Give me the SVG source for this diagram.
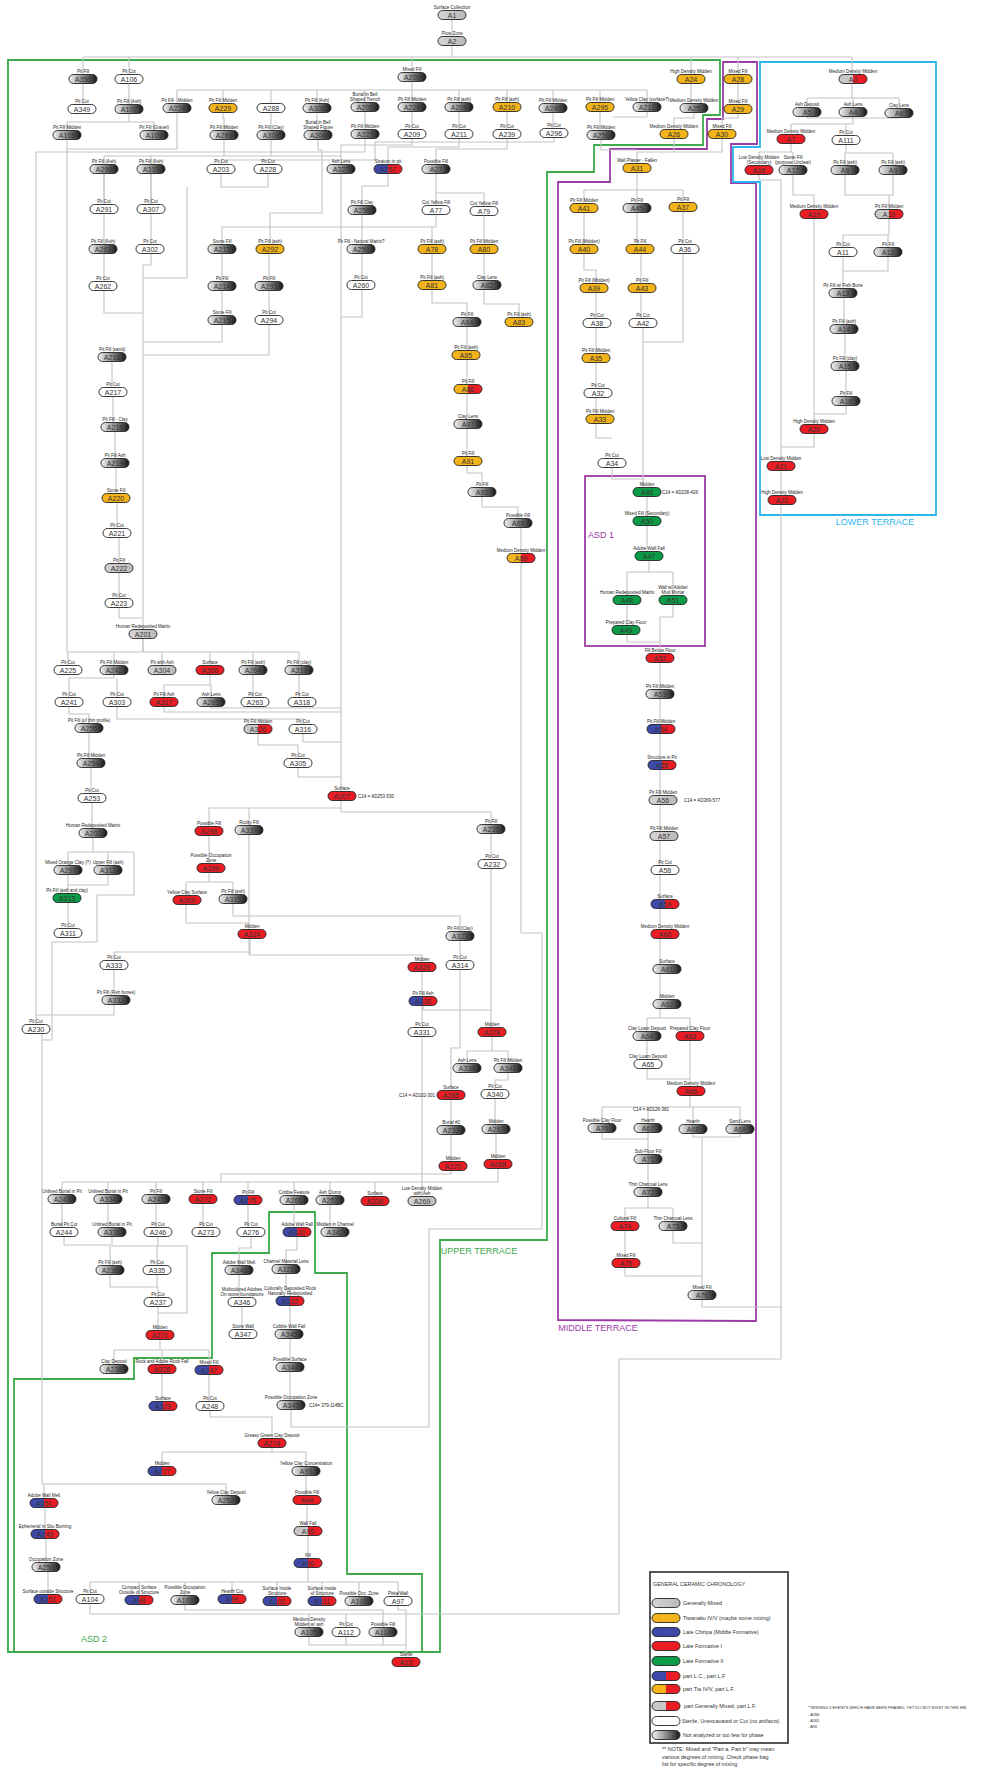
<svg xmlns="http://www.w3.org/2000/svg" xmlns:xlink="http://www.w3.org/1999/xlink" width="990" height="1771" viewBox="0 0 990 1771">
<defs>
<linearGradient id="gg" x1="0" x2="1" y1="0" y2="0"><stop offset="0" stop-color="#f2f2f2"/><stop offset="0.5" stop-color="#8e8e8e"/><stop offset="1" stop-color="#151515"/></linearGradient>
<linearGradient id="gm" x1="0" x2="1" y1="0" y2="0"><stop offset="0" stop-color="#d6d4d4"/><stop offset="1" stop-color="#bab8b8"/></linearGradient>
<linearGradient id="gbr" x1="0" x2="1" y1="0" y2="0"><stop offset="0.5" stop-color="#3e48a8"/><stop offset="0.5" stop-color="#ec1c24"/></linearGradient>
<linearGradient id="gyr" x1="0" x2="1" y1="0" y2="0"><stop offset="0.5" stop-color="#f3b41b"/><stop offset="0.5" stop-color="#ec1c24"/></linearGradient>
<linearGradient id="gmr" x1="0" x2="1" y1="0" y2="0"><stop offset="0.5" stop-color="#c9c7c7"/><stop offset="0.5" stop-color="#ec1c24"/></linearGradient>
<rect id="pill" x="-14" y="-4.5" width="28" height="9" rx="4.5" stroke="#222" stroke-width="0.9"/>
</defs>
<style>
text{font-family:"Liberation Sans",Arial,sans-serif}
.c path{fill:none;stroke:#c4c4c4;stroke-width:1.1}
.w{fill:#fff}.m{fill:url(#gm)}.y{fill:#f3b41b}.r{fill:#ec1c24}.b{fill:#3e48a8}.gn{fill:#0c9b47}.g{fill:url(#gg)}.br{fill:url(#gbr)}.yr{fill:url(#gyr)}.mr{fill:url(#gmr)}
.l{font-size:4.5px;fill:#222;text-anchor:middle}
.i{font-size:7px;fill:#333;text-anchor:middle}
.d{font-size:4.5px;fill:#222}
.zone{fill:none;stroke-width:1.8}
.zt{font-size:9px}
.lg{font-size:5.4px;fill:#333}
</style>
<rect width="990" height="1771" fill="#fff"/>

<!-- site zones -->
<g id="zones">
<path class="zone" stroke="#3daa4b" d="M8,60H720V115H703V145H594V172H547V1240H440V1652H8Z"/>
<path class="zone" stroke="#3daa4b" d="M14,1379H134V1358H212V1253H269V1212H315V1273H347V1574H422V1652H14Z"/>
<path class="zone" stroke="#9b3ba6" d="M558,1320V182H610V149H707V119H723V62H757V144H731V183H756V1321Z"/>
<path class="zone" stroke="#2cb5ea" d="M760,62H936V515H760V182H733V147H760Z"/>
<rect class="zone" stroke="#9b3ba6" x="585" y="476" width="120" height="170"/>
<text class="zt" x="479" y="1254" fill="#3daa4b" text-anchor="middle">UPPER TERRACE</text>
<text class="zt" x="94" y="1642" fill="#3daa4b" text-anchor="middle">ASD 2</text>
<text class="zt" x="598" y="1331" fill="#9b3ba6" text-anchor="middle">MIDDLE TERRACE</text>
<text class="zt" x="588" y="538" fill="#9b3ba6">ASD 1</text>
<text class="zt" x="875" y="525" fill="#2cb5ea" text-anchor="middle">LOWER TERRACE</text>
</g>

<!-- stratigraphic links -->
<g id="connectors" class="c">
<path d="M452,15V57M83,57H852M83,57V109M129,57V122M67,122H154M67,122V135M154,122V135M412,57V90M691,57V108M738,57V118H722V152M852,57V98"/>
<path d="M694,108V118H674V152H637V190M722,152H674M601,135V150H637"/>
<path d="M807,98H899M807,98V118H899V98M853,98V124M791,124H853M791,124V152M846,124V153"/>
<path d="M759,152H793M759,152V180H781V1359H619V1614H90V1599"/>
<path d="M793,152V195H814V447H781"/>
<path d="M845,153H893M845,153V195H893V153M889,195V235M843,235H888M843,235V293M844,293V329M845,329V366M846,366V414H814M888,235V271H843"/>
<path d="M177,90H647M177,90V108M223,90V108M271,90V108M317,90V108M365,90V107M412,90V107M459,90V107M507,90V107M553,90V108M600,90V107M647,90V107M647,107V117H613"/>
<path d="M223,108V118H224V135M271,108V135M317,108V135M365,107V134M412,107V134M459,107V134M507,107V134M553,108V133H554M600,107V135H601"/>
<path d="M177,108V149H67M67,135V652M365,134V152H36V1029M42,1029V1484H226V1500"/>
<path d="M224,135V156M271,135V156M104,156H341M104,156V209M151,156V209"/>
<path d="M318,135V150H322V213H270V249"/>
<path d="M412,134V145H341V796"/>
<path d="M459,134V147H388V186H362V317H341"/>
<path d="M507,134V149H436V193M436,193H484M436,193V227H222V249M341,227H436"/>
<path d="M432,227V303H467V473H482V507H518V523H521V933H542V1229H429V1427H291V1405"/>
<path d="M484,193V304H519V322"/>
<path d="M554,133V142H375V160H221V169M268,160V169"/>
<path d="M221,169V187H268V169M187,187V278H143"/>
<path d="M104,169V313H143M151,169V265H143M143,265V652M222,249V342H143M270,249H269V355H143"/>
<path d="M112,357V392M113,392V427M115,427V463M116,463V498M117,498V533M119,533V618H143"/>
<path d="M584,190H683M584,190V270H596V438H612M612,463V479H645M637,190V249H641V323H643V492M683,190V342H643"/>
<path d="M647,492V556H649V572M627,572H673M627,572V642H660M673,572V617H660M660,617V1018M647,1018H690M647,1018V1079H690M690,1018V1107"/>
<path d="M602,1107H740M602,1107V1139H648M648,1107V1208M693,1107V1137H740V1107M702,1137V1307H782M625,1208H673M625,1208V1276H702M673,1208V1243H702"/>
<path d="M143,634V652M67,652H299M68,652V670M114,652V670M162,652V670M210,652V670M253,652V702H255M299,652V702H302"/>
<path d="M114,670V678H69V702M117,678V702M210,670V685H164V702M211,685V702"/>
<path d="M69,702V714H89V728M89,728V763M91,763V798M92,798V833M93,833V852M68,852H134M68,852V933M108,852V885H68M134,852V895H97V942H52V1040H42"/>
<path d="M117,702V719H303V729M164,702V712H341M211,702V708H341M258,729V745H298V763M303,729V742H341M298,763V777H341"/>
<path d="M341,796V808H209V882M249,808V955M341,808V812H491V1032H492"/>
<path d="M186,882H233M186,882V923H250M233,882V916H460V1048H451V1174H221V1182"/>
<path d="M250,934V955H422V1201M114,952H250M114,952V1015H36M423,1001V1010H492"/>
<path d="M492,1032V1051M467,1051H508M467,1051V1068M508,1051V1080H495V1129H496V1164H498V1182H422"/>
<path d="M62,1182H422M62,1182V1232H64M108,1182V1232H112M156,1182V1232H158M203,1182V1232H206M248,1182V1232H251M294,1182V1232H297M330,1182V1232H335M375,1182V1201"/>
<path d="M64,1232V1245H110V1270M112,1232V1246H157V1287M158,1232V1246H187V1313H158M110,1270V1287H158V1335H160"/>
<path d="M251,1232V1248H239V1302H242V1334H243M297,1232V1250H286V1290H290V1405H291"/>
<path d="M160,1335V1350M114,1350H209M114,1350V1369M162,1350V1406H163M209,1350V1406H210V1417H272V1452M162,1452H306M162,1452V1471"/>
<path d="M306,1452V1500H307V1531H308V1582M90,1582H398M90,1582V1599M139,1582V1600M185,1582V1600M232,1582V1599M277,1582V1601M322,1582V1601M359,1582V1601M398,1582V1601"/>
<path d="M44,1484V1503H45V1534H46V1567H48V1599"/>
<path d="M185,1600V1610H383V1645M346,1614V1645M309,1614V1645H406M398,1601V1610H406V1662"/>
</g>

<!-- context units -->
<g id="nodes">
<g id="A1" transform="translate(452,15)"><text class="l" y="-6">Surface Collection</text><use href="#pill" class="m"/><text class="i" y="2.5">A1</text></g>
<g id="A2" transform="translate(452,41)"><text class="l" y="-6">Plow Zone</text><use href="#pill" class="m"/><text class="i" y="2.5">A2</text></g>
<g id="A350" transform="translate(83,79)"><text class="l" y="-6">Pit Fill</text><use href="#pill" class="g"/><text class="i" y="2.5">A350</text></g>
<g id="A106" transform="translate(129,79)"><text class="l" y="-6">Pit Cut</text><use href="#pill" class="w"/><text class="i" y="2.5">A106</text></g>
<g id="A200" transform="translate(412,77)"><text class="l" y="-6">Mixed Fill</text><use href="#pill" class="g"/><text class="i" y="2.5">A200</text></g>
<g id="A24" transform="translate(691,79)"><text class="l" y="-6">High Density Midden</text><use href="#pill" class="y"/><text class="i" y="2.5">A24</text></g>
<g id="A28" transform="translate(738,79)"><text class="l" y="-6">Mixed Fill</text><use href="#pill" class="y"/><text class="i" y="2.5">A28</text></g>
<g id="A3" transform="translate(853,79)"><text class="l" y="-6">Medium Density Midden</text><use href="#pill" class="mr"/><text class="i" y="2.5">A3</text></g>
<g id="A349" transform="translate(82,109)"><text class="l" y="-6">Pit Cut</text><use href="#pill" class="w"/><text class="i" y="2.5">A349</text></g>
<g id="A107" transform="translate(129,109)"><text class="l" y="-6">Pit Fill (Ash)</text><use href="#pill" class="g"/><text class="i" y="2.5">A107</text></g>
<g id="A224" transform="translate(177,108)"><text class="l" y="-6">Pit Fill - Midden</text><use href="#pill" class="g"/><text class="i" y="2.5">A224</text></g>
<g id="A229" transform="translate(223,108)"><text class="l" y="-6">Pit Fill Midden</text><use href="#pill" class="y"/><text class="i" y="2.5">A229</text></g>
<g id="A288" transform="translate(271,108)"><use href="#pill" class="w"/><text class="i" y="2.5">A288</text></g>
<g id="A308" transform="translate(317,108)"><text class="l" y="-6">Pit Fill (Ash)</text><use href="#pill" class="g"/><text class="i" y="2.5">A308</text></g>
<g id="A205" transform="translate(365,107)"><text class="l" y="-11">Burial in Bell</text><text class="l" y="-6">Shaped Trench</text><use href="#pill" class="g"/><text class="i" y="2.5">A205</text></g>
<g id="A226" transform="translate(412,107)"><text class="l" y="-6">Pit Fill Midden</text><use href="#pill" class="g"/><text class="i" y="2.5">A226</text></g>
<g id="A208" transform="translate(459,107)"><text class="l" y="-6">Pit Fill (ash)</text><use href="#pill" class="g"/><text class="i" y="2.5">A208</text></g>
<g id="A210" transform="translate(507,107)"><text class="l" y="-6">Pit Fill (ash)</text><use href="#pill" class="y"/><text class="i" y="2.5">A210</text></g>
<g id="A240" transform="translate(553,108)"><text class="l" y="-6">Pit Fill Midden</text><use href="#pill" class="g"/><text class="i" y="2.5">A240</text></g>
<g id="A295" transform="translate(600,107)"><text class="l" y="-6">Pit Fill Midden</text><use href="#pill" class="y"/><text class="i" y="2.5">A295</text></g>
<g id="A212" transform="translate(647,107)"><text class="l" y="-6">Yellow Clay (surface?)</text><use href="#pill" class="g"/><text class="i" y="2.5">A212</text></g>
<g id="A25" transform="translate(694,108)"><text class="l" y="-6">Medium Density Midden</text><use href="#pill" class="g"/><text class="i" y="2.5">A25</text></g>
<g id="A29" transform="translate(738,109)"><text class="l" y="-6">Mixed Fill</text><use href="#pill" class="y"/><text class="i" y="2.5">A29</text></g>
<g id="A108" transform="translate(67,135)"><text class="l" y="-6">Pit Fill Midden</text><use href="#pill" class="g"/><text class="i" y="2.5">A108</text></g>
<g id="A109" transform="translate(154,135)"><text class="l" y="-6">Pit Fill (Gravel)</text><use href="#pill" class="g"/><text class="i" y="2.5">A109</text></g>
<g id="A289" transform="translate(224,135)"><text class="l" y="-6">Pit Fill Midden</text><use href="#pill" class="g"/><text class="i" y="2.5">A289</text></g>
<g id="A309" transform="translate(271,135)"><text class="l" y="-6">Pit Fill (Clay)</text><use href="#pill" class="g"/><text class="i" y="2.5">A309</text></g>
<g id="A204" transform="translate(318,135)"><text class="l" y="-11">Burial in Bell</text><text class="l" y="-6">Shaped Figure</text><use href="#pill" class="g"/><text class="i" y="2.5">A204</text></g>
<g id="A227" transform="translate(365,134)"><text class="l" y="-6">Pit Fill Midden</text><use href="#pill" class="g"/><text class="i" y="2.5">A227</text></g>
<g id="A209" transform="translate(412,134)"><text class="l" y="-6">Pit Cut</text><use href="#pill" class="w"/><text class="i" y="2.5">A209</text></g>
<g id="A211" transform="translate(459,134)"><text class="l" y="-6">Pit Cut</text><use href="#pill" class="w"/><text class="i" y="2.5">A211</text></g>
<g id="A239" transform="translate(507,134)"><text class="l" y="-6">Pit Cut</text><use href="#pill" class="w"/><text class="i" y="2.5">A239</text></g>
<g id="A296" transform="translate(554,133)"><text class="l" y="-6">Pit Cut</text><use href="#pill" class="w"/><text class="i" y="2.5">A296</text></g>
<g id="A256" transform="translate(601,135)"><text class="l" y="-6">Pit Fill Midden</text><use href="#pill" class="g"/><text class="i" y="2.5">A256</text></g>
<g id="A26" transform="translate(674,134)"><text class="l" y="-6">Medium Density Midden</text><use href="#pill" class="y"/><text class="i" y="2.5">A26</text></g>
<g id="A30" transform="translate(722,134)"><text class="l" y="-6">Mixed Fill</text><use href="#pill" class="y"/><text class="i" y="2.5">A30</text></g>

<g id="A5" transform="translate(807,112)"><text class="l" y="-6">Ash Deposit</text><use href="#pill" class="g"/><text class="i" y="2.5">A5</text></g>
<g id="A4" transform="translate(853,112)"><text class="l" y="-6">Ash Lens</text><use href="#pill" class="g"/><text class="i" y="2.5">A4</text></g>
<g id="A6" transform="translate(899,113)"><text class="l" y="-6">Clay Lens</text><use href="#pill" class="g"/><text class="i" y="2.5">A6</text></g>
<g id="A7" transform="translate(791,139)"><text class="l" y="-6">Medium Density Midden</text><use href="#pill" class="r"/><text class="i" y="2.5">A7</text></g>
<g id="A111" transform="translate(846,140)"><text class="l" y="-6">Pit Cut</text><use href="#pill" class="w"/><text class="i" y="2.5">A111</text></g>
<g id="A18" transform="translate(759,170)"><text class="l" y="-11">Low Density Midden</text><text class="l" y="-6">(Secondary)</text><use href="#pill" class="r"/><text class="i" y="2.5">A18</text></g>
<g id="A17" transform="translate(793,170)"><text class="l" y="-11">Stone Fill</text><text class="l" y="-6">(purpose Unclear)</text><use href="#pill" class="g"/><text class="i" y="2.5">A17</text></g>
<g id="A8" transform="translate(845,170)"><text class="l" y="-6">Pit Fill (ash)</text><use href="#pill" class="g"/><text class="i" y="2.5">A8</text></g>
<g id="A9" transform="translate(893,170)"><text class="l" y="-6">Pit Fill (ash)</text><use href="#pill" class="g"/><text class="i" y="2.5">A9</text></g>
<g id="A19" transform="translate(814,214)"><text class="l" y="-6">Medium Density Midden</text><use href="#pill" class="r"/><text class="i" y="2.5">A19</text></g>
<g id="A10" transform="translate(889,214)"><text class="l" y="-6">Pit Fill Midden</text><use href="#pill" class="mr"/><text class="i" y="2.5">A10</text></g>
<g id="A11" transform="translate(843,252)"><text class="l" y="-6">Pit Cut</text><use href="#pill" class="w"/><text class="i" y="2.5">A11</text></g>
<g id="A12" transform="translate(888,252)"><text class="l" y="-6">Pit Fill</text><use href="#pill" class="g"/><text class="i" y="2.5">A12</text></g>
<g id="A13" transform="translate(843,293)"><text class="l" y="-6">Pit Fill w/ Fish Bone</text><use href="#pill" class="g"/><text class="i" y="2.5">A13</text></g>
<g id="A14" transform="translate(844,329)"><text class="l" y="-6">Pit Fill (ash)</text><use href="#pill" class="g"/><text class="i" y="2.5">A14</text></g>
<g id="A15" transform="translate(845,366)"><text class="l" y="-6">Pit Fill (clay)</text><use href="#pill" class="g"/><text class="i" y="2.5">A15</text></g>
<g id="A16" transform="translate(846,401)"><text class="l" y="-6">Pit Fill</text><use href="#pill" class="g"/><text class="i" y="2.5">A16</text></g>
<g id="A20" transform="translate(814,429)"><text class="l" y="-6">High Density Midden</text><use href="#pill" class="r"/><text class="i" y="2.5">A20</text></g>
<g id="A21" transform="translate(781,466)"><text class="l" y="-6">Low Density Midden</text><use href="#pill" class="r"/><text class="i" y="2.5">A21</text></g>
<g id="A22" transform="translate(782,500)"><text class="l" y="-6">High Density Midden</text><use href="#pill" class="r"/><text class="i" y="2.5">A22</text></g>

<g id="A290" transform="translate(104,169)"><text class="l" y="-6">Pit Fill (Ash)</text><use href="#pill" class="g"/><text class="i" y="2.5">A290</text></g>
<g id="A310" transform="translate(151,169)"><text class="l" y="-6">Pit Fill (Ash)</text><use href="#pill" class="g"/><text class="i" y="2.5">A310</text></g>
<g id="A203" transform="translate(221,169)"><text class="l" y="-6">Pit Cut</text><use href="#pill" class="w"/><text class="i" y="2.5">A203</text></g>
<g id="A228" transform="translate(268,169)"><text class="l" y="-6">Pit Cut</text><use href="#pill" class="w"/><text class="i" y="2.5">A228</text></g>
<g id="A327" transform="translate(341,169)"><text class="l" y="-6">Ash Lens</text><use href="#pill" class="g"/><text class="i" y="2.5">A327</text></g>
<g id="A257" transform="translate(388,169)"><text class="l" y="-6">Stratum in pit</text><use href="#pill" class="br"/><text class="i" y="2.5">A257</text></g>
<g id="A27" transform="translate(436,169)"><text class="l" y="-6">Possible Fill</text><use href="#pill" class="g"/><text class="i" y="2.5">A27</text></g>
<g id="A31" transform="translate(637,168)"><text class="l" y="-6">Wall Plaster - Fallen</text><use href="#pill" class="y"/><text class="i" y="2.5">A31</text></g>
<g id="A291" transform="translate(104,209)"><text class="l" y="-6">Pit Cut</text><use href="#pill" class="w"/><text class="i" y="2.5">A291</text></g>
<g id="A307" transform="translate(151,209)"><text class="l" y="-6">Pit Cut</text><use href="#pill" class="w"/><text class="i" y="2.5">A307</text></g>
<g id="A258" transform="translate(362,210)"><text class="l" y="-6">Pit Fill Clay</text><use href="#pill" class="g"/><text class="i" y="2.5">A258</text></g>
<g id="A77" transform="translate(436,210)"><text class="l" y="-6">Cut Yellow Fill</text><use href="#pill" class="w"/><text class="i" y="2.5">A77</text></g>
<g id="A79" transform="translate(484,211)"><text class="l" y="-6">Cut Yellow Fill</text><use href="#pill" class="w"/><text class="i" y="2.5">A79</text></g>
<g id="A41" transform="translate(584,208)"><text class="l" y="-6">Pit Fill Midden</text><use href="#pill" class="y"/><text class="i" y="2.5">A41</text></g>
<g id="A45" transform="translate(637,208)"><text class="l" y="-6">Pit Fill</text><use href="#pill" class="g"/><text class="i" y="2.5">A45</text></g>
<g id="A37" transform="translate(683,207)"><text class="l" y="-6">Pit Fill</text><use href="#pill" class="y"/><text class="i" y="2.5">A37</text></g>
<g id="A261" transform="translate(103,249)"><text class="l" y="-6">Pit Fill (Ash)</text><use href="#pill" class="g"/><text class="i" y="2.5">A261</text></g>
<g id="A302" transform="translate(150,249)"><text class="l" y="-6">Pit Cut</text><use href="#pill" class="w"/><text class="i" y="2.5">A302</text></g>
<g id="A213" transform="translate(222,249)"><text class="l" y="-6">Stone Fill</text><use href="#pill" class="g"/><text class="i" y="2.5">A213</text></g>
<g id="A292" transform="translate(270,249)"><text class="l" y="-6">Pit Fill (ash)</text><use href="#pill" class="y"/><text class="i" y="2.5">A292</text></g>
<g id="A259" transform="translate(361,249)"><text class="l" y="-6">Pit Fill - Natural Matrix?</text><use href="#pill" class="g"/><text class="i" y="2.5">A259</text></g>
<g id="A78" transform="translate(432,249)"><text class="l" y="-6">Pit Fill (ash)</text><use href="#pill" class="y"/><text class="i" y="2.5">A78</text></g>
<g id="A80" transform="translate(484,249)"><text class="l" y="-6">Pit Fill Midden</text><use href="#pill" class="y"/><text class="i" y="2.5">A80</text></g>
<g id="A40" transform="translate(584,249)"><text class="l" y="-6">Pit Fill (Midden)</text><use href="#pill" class="y"/><text class="i" y="2.5">A40</text></g>
<g id="A44" transform="translate(640,249)"><text class="l" y="-6">Pit Fill</text><use href="#pill" class="y"/><text class="i" y="2.5">A44</text></g>
<g id="A36" transform="translate(685,249)"><text class="l" y="-6">Pit Cut</text><use href="#pill" class="w"/><text class="i" y="2.5">A36</text></g>
<g id="A262" transform="translate(103,286)"><text class="l" y="-6">Pit Cut</text><use href="#pill" class="w"/><text class="i" y="2.5">A262</text></g>
<g id="A214" transform="translate(222,286)"><text class="l" y="-6">Pit Fill</text><use href="#pill" class="g"/><text class="i" y="2.5">A214</text></g>
<g id="A293" transform="translate(269,286)"><text class="l" y="-6">Pit Fill</text><use href="#pill" class="g"/><text class="i" y="2.5">A293</text></g>
<g id="A260" transform="translate(361,285)"><text class="l" y="-6">Pit Cut</text><use href="#pill" class="w"/><text class="i" y="2.5">A260</text></g>
<g id="A81" transform="translate(432,285)"><text class="l" y="-6">Pit Fill (ash)</text><use href="#pill" class="y"/><text class="i" y="2.5">A81</text></g>
<g id="A82" transform="translate(487,285)"><text class="l" y="-6">Clay Lens</text><use href="#pill" class="g"/><text class="i" y="2.5">A82</text></g>
<g id="A39" transform="translate(594,288)"><text class="l" y="-6">Pit Fill (Midden)</text><use href="#pill" class="y"/><text class="i" y="2.5">A39</text></g>
<g id="A43" transform="translate(642,288)"><text class="l" y="-6">Pit Fill</text><use href="#pill" class="y"/><text class="i" y="2.5">A43</text></g>
<g id="A215" transform="translate(222,320)"><text class="l" y="-6">Stone Fill</text><use href="#pill" class="g"/><text class="i" y="2.5">A215</text></g>
<g id="A294" transform="translate(269,320)"><text class="l" y="-6">Pit Cut</text><use href="#pill" class="w"/><text class="i" y="2.5">A294</text></g>
<g id="A84" transform="translate(467,322)"><text class="l" y="-6">Pit Fill</text><use href="#pill" class="g"/><text class="i" y="2.5">A84</text></g>
<g id="A83" transform="translate(519,322)"><text class="l" y="-6">Pit Fill (ash)</text><use href="#pill" class="y"/><text class="i" y="2.5">A83</text></g>
<g id="A38" transform="translate(597,323)"><text class="l" y="-6">Pit Cut</text><use href="#pill" class="w"/><text class="i" y="2.5">A38</text></g>
<g id="A42" transform="translate(643,323)"><text class="l" y="-6">Pit Cut</text><use href="#pill" class="w"/><text class="i" y="2.5">A42</text></g>
<g id="A216" transform="translate(112,357)"><text class="l" y="-6">Pit Fill (sand)</text><use href="#pill" class="g"/><text class="i" y="2.5">A216</text></g>
<g id="A85" transform="translate(466,355)"><text class="l" y="-6">Pit Fill (ash)</text><use href="#pill" class="y"/><text class="i" y="2.5">A85</text></g>
<g id="A35" transform="translate(596,358)"><text class="l" y="-6">Pit Fill Midden</text><use href="#pill" class="y"/><text class="i" y="2.5">A35</text></g>
<g id="A217" transform="translate(113,392)"><text class="l" y="-6">Pit Cut</text><use href="#pill" class="w"/><text class="i" y="2.5">A217</text></g>
<g id="A86" transform="translate(468,389)"><text class="l" y="-6">Pit Fill</text><use href="#pill" class="yr"/><text class="i" y="2.5">A86</text></g>
<g id="A32" transform="translate(598,393)"><text class="l" y="-6">Pit Cut</text><use href="#pill" class="w"/><text class="i" y="2.5">A32</text></g>
<g id="A218" transform="translate(115,427)"><text class="l" y="-6">Pit Fill - Clay</text><use href="#pill" class="g"/><text class="i" y="2.5">A218</text></g>
<g id="A87" transform="translate(468,424)"><text class="l" y="-6">Clay Lens</text><use href="#pill" class="g"/><text class="i" y="2.5">A87</text></g>
<g id="A33" transform="translate(600,419)"><text class="l" y="-6">Pit Fill Midden</text><use href="#pill" class="y"/><text class="i" y="2.5">A33</text></g>
<g id="A219" transform="translate(115,463)"><text class="l" y="-6">Pit Fill Ash</text><use href="#pill" class="g"/><text class="i" y="2.5">A219</text></g>
<g id="A91" transform="translate(468,461)"><text class="l" y="-6">Pit Fill</text><use href="#pill" class="y"/><text class="i" y="2.5">A91</text></g>
<g id="A34" transform="translate(612,463)"><text class="l" y="-6">Pit Cut</text><use href="#pill" class="w"/><text class="i" y="2.5">A34</text></g>
<g id="A92" transform="translate(482,492)"><text class="l" y="-6">Pit Fill</text><use href="#pill" class="g"/><text class="i" y="2.5">A92</text></g>
<g id="A46" transform="translate(647,492)"><text class="l" y="-6">Midden</text><use href="#pill" class="gn"/><text class="i" y="2.5">A46</text></g>
<g id="A220" transform="translate(116,498)"><text class="l" y="-6">Stone Fill</text><use href="#pill" class="y"/><text class="i" y="2.5">A220</text></g>
<g id="A88" transform="translate(518,523)"><text class="l" y="-6">Possible Fill</text><use href="#pill" class="g"/><text class="i" y="2.5">A88</text></g>
<g id="A50" transform="translate(647,521)"><text class="l" y="-6">Mixed Fill (Secondary)</text><use href="#pill" class="gn"/><text class="i" y="2.5">A50</text></g>
<g id="A221" transform="translate(117,533)"><text class="l" y="-6">Pit Cut</text><use href="#pill" class="w"/><text class="i" y="2.5">A221</text></g>
<g id="A89" transform="translate(521,558)"><text class="l" y="-6">Medium Density Midden</text><use href="#pill" class="yr"/><text class="i" y="2.5">A89</text></g>
<g id="A47" transform="translate(649,556)"><text class="l" y="-6">Adobe Wall Fall</text><use href="#pill" class="gn"/><text class="i" y="2.5">A47</text></g>
<g id="A222" transform="translate(119,568)"><text class="l" y="-6">Pit Fill</text><use href="#pill" class="m"/><text class="i" y="2.5">A222</text></g>
<g id="A48" transform="translate(627,600)"><text class="l" y="-6">Human Redeposited Matrix</text><use href="#pill" class="gn"/><text class="i" y="2.5">A48</text></g>
<g id="A51" transform="translate(673,600)"><text class="l" y="-11">Wall w/ Adobe/</text><text class="l" y="-6">Mud Mortar</text><use href="#pill" class="gn"/><text class="i" y="2.5">A51</text></g>
<g id="A223" transform="translate(119,603)"><text class="l" y="-6">Pit Cut</text><use href="#pill" class="w"/><text class="i" y="2.5">A223</text></g>
<g id="A49" transform="translate(626,630)"><text class="l" y="-6">Prepared Clay Floor</text><use href="#pill" class="gn"/><text class="i" y="2.5">A49</text></g>
<g id="A201" transform="translate(143,634)"><text class="l" y="-6">Human Redeposited Matrix</text><use href="#pill" class="m"/><text class="i" y="2.5">A201</text></g>
<g id="A52" transform="translate(660,658)"><text class="l" y="-6">Fill Below Floor</text><use href="#pill" class="r"/><text class="i" y="2.5">A52</text></g>

<g id="A225" transform="translate(68,670)"><text class="l" y="-6">Pit Cut</text><use href="#pill" class="w"/><text class="i" y="2.5">A225</text></g>
<g id="A242" transform="translate(114,670)"><text class="l" y="-6">Pit Fill Midden</text><use href="#pill" class="g"/><text class="i" y="2.5">A242</text></g>
<g id="A304" transform="translate(162,670)"><text class="l" y="-6">Pit with Ash</text><use href="#pill" class="m"/><text class="i" y="2.5">A304</text></g>
<g id="A306" transform="translate(210,670)"><text class="l" y="-6">Surface</text><use href="#pill" class="r"/><text class="i" y="2.5">A306</text></g>
<g id="A264" transform="translate(253,670)"><text class="l" y="-6">Pit Fill (ash)</text><use href="#pill" class="g"/><text class="i" y="2.5">A264</text></g>
<g id="A319" transform="translate(299,670)"><text class="l" y="-6">Pit Fill (clay)</text><use href="#pill" class="g"/><text class="i" y="2.5">A319</text></g>
<g id="A53" transform="translate(660,694)"><text class="l" y="-6">Pit Fill Midden</text><use href="#pill" class="g"/><text class="i" y="2.5">A53</text></g>
<g id="A241" transform="translate(69,702)"><text class="l" y="-6">Pit Cut</text><use href="#pill" class="w"/><text class="i" y="2.5">A241</text></g>
<g id="A303" transform="translate(117,702)"><text class="l" y="-6">Pit Cut</text><use href="#pill" class="w"/><text class="i" y="2.5">A303</text></g>
<g id="A317" transform="translate(164,702)"><text class="l" y="-6">Pit Fill Ash</text><use href="#pill" class="r"/><text class="i" y="2.5">A317</text></g>
<g id="A265" transform="translate(211,702)"><text class="l" y="-6">Ash Lens</text><use href="#pill" class="g"/><text class="i" y="2.5">A265</text></g>
<g id="A263" transform="translate(255,702)"><text class="l" y="-6">Pit Cut</text><use href="#pill" class="w"/><text class="i" y="2.5">A263</text></g>
<g id="A318" transform="translate(302,702)"><text class="l" y="-6">Pit Cut</text><use href="#pill" class="w"/><text class="i" y="2.5">A318</text></g>
<g id="A255" transform="translate(89,728)"><text class="l" y="-6">Pit Fill (of thin profile)</text><use href="#pill" class="g"/><text class="i" y="2.5">A255</text></g>
<g id="A326" transform="translate(258,729)"><text class="l" y="-6">Pit Fill Midden</text><use href="#pill" class="mr"/><text class="i" y="2.5">A326</text></g>
<g id="A316" transform="translate(303,729)"><text class="l" y="-6">Pit Cut</text><use href="#pill" class="w"/><text class="i" y="2.5">A316</text></g>
<g id="A54" transform="translate(661,729)"><text class="l" y="-6">Pit Fill Midden</text><use href="#pill" class="br"/><text class="i" y="2.5">A54</text></g>
<g id="A254" transform="translate(91,763)"><text class="l" y="-6">Pit Fill Midden</text><use href="#pill" class="g"/><text class="i" y="2.5">A254</text></g>
<g id="A305" transform="translate(298,763)"><text class="l" y="-6">Pit Cut</text><use href="#pill" class="w"/><text class="i" y="2.5">A305</text></g>
<g id="A55" transform="translate(662,765)"><text class="l" y="-6">Structure in Pit</text><use href="#pill" class="br"/><text class="i" y="2.5">A55</text></g>
<g id="A253" transform="translate(92,798)"><text class="l" y="-6">Pit Cut</text><use href="#pill" class="w"/><text class="i" y="2.5">A253</text></g>
<g id="A207" transform="translate(342,796)"><text class="l" y="-6">Surface</text><use href="#pill" class="r"/><text class="i" y="2.5">A207</text></g>
<g id="A56" transform="translate(663,800)"><text class="l" y="-6">Pit Fill Midden</text><use href="#pill" class="m"/><text class="i" y="2.5">A56</text></g>
<g id="A298" transform="translate(209,831)"><text class="l" y="-6">Possible Fill</text><use href="#pill" class="r"/><text class="i" y="2.5">A298</text></g>
<g id="A337" transform="translate(249,830)"><text class="l" y="-6">Rocky Fill</text><use href="#pill" class="g"/><text class="i" y="2.5">A337</text></g>
<g id="A202" transform="translate(93,833)"><text class="l" y="-6">Human Redeposited Matrix</text><use href="#pill" class="g"/><text class="i" y="2.5">A202</text></g>
<g id="A231" transform="translate(491,829)"><text class="l" y="-6">Pit Fill</text><use href="#pill" class="g"/><text class="i" y="2.5">A231</text></g>
<g id="A57" transform="translate(664,836)"><text class="l" y="-6">Pit Fill Midden</text><use href="#pill" class="m"/><text class="i" y="2.5">A57</text></g>
<g id="A299" transform="translate(211,868)"><text class="l" y="-11">Possible Occupation</text><text class="l" y="-6">Zone</text><use href="#pill" class="r"/><text class="i" y="2.5">A299</text></g>
<g id="A297" transform="translate(68,870)"><text class="l" y="-6">Mixed Orange Clay (?)</text><use href="#pill" class="g"/><text class="i" y="2.5">A297</text></g>
<g id="A312" transform="translate(108,870)"><text class="l" y="-6">Upper Fill (ash)</text><use href="#pill" class="g"/><text class="i" y="2.5">A312</text></g>
<g id="A232" transform="translate(492,864)"><text class="l" y="-6">Pit Cut</text><use href="#pill" class="w"/><text class="i" y="2.5">A232</text></g>
<g id="A58" transform="translate(665,870)"><text class="l" y="-6">Pit Cut</text><use href="#pill" class="w"/><text class="i" y="2.5">A58</text></g>
<g id="A313" transform="translate(67,898)"><text class="l" y="-6">Pit Fill (ash and clay)</text><use href="#pill" class="gn"/><text class="i" y="2.5">A313</text></g>
<g id="A300" transform="translate(187,900)"><text class="l" y="-6">Yellow Clay Surface</text><use href="#pill" class="r"/><text class="i" y="2.5">A300</text></g>
<g id="A315" transform="translate(233,899)"><text class="l" y="-6">Pit Fill (ash)</text><use href="#pill" class="g"/><text class="i" y="2.5">A315</text></g>
<g id="A59" transform="translate(665,904)"><text class="l" y="-6">Surface</text><use href="#pill" class="br"/><text class="i" y="2.5">A59</text></g>
<g id="A311" transform="translate(68,933)"><text class="l" y="-6">Pit Cut</text><use href="#pill" class="w"/><text class="i" y="2.5">A311</text></g>
<g id="A324" transform="translate(252,934)"><text class="l" y="-6">Midden</text><use href="#pill" class="r"/><text class="i" y="2.5">A324</text></g>
<g id="A323" transform="translate(460,936)"><text class="l" y="-6">Pit Fill (Clay)</text><use href="#pill" class="g"/><text class="i" y="2.5">A323</text></g>
<g id="A60" transform="translate(665,934)"><text class="l" y="-6">Medium Density Midden</text><use href="#pill" class="r"/><text class="i" y="2.5">A60</text></g>
<g id="A333" transform="translate(114,965)"><text class="l" y="-6">Pit Cut</text><use href="#pill" class="w"/><text class="i" y="2.5">A333</text></g>
<g id="A325" transform="translate(422,967)"><text class="l" y="-6">Midden</text><use href="#pill" class="r"/><text class="i" y="2.5">A325</text></g>
<g id="A314" transform="translate(460,965)"><text class="l" y="-6">Pit Cut</text><use href="#pill" class="w"/><text class="i" y="2.5">A314</text></g>
<g id="A61" transform="translate(667,969)"><text class="l" y="-6">Surface</text><use href="#pill" class="g"/><text class="i" y="2.5">A61</text></g>
<g id="A332" transform="translate(116,1000)"><text class="l" y="-6">Pit Fill (Fish bones)</text><use href="#pill" class="g"/><text class="i" y="2.5">A332</text></g>
<g id="A330" transform="translate(423,1001)"><text class="l" y="-6">Pit Fill Ash</text><use href="#pill" class="br"/><text class="i" y="2.5">A330</text></g>
<g id="A62" transform="translate(667,1004)"><text class="l" y="-6">Midden</text><use href="#pill" class="g"/><text class="i" y="2.5">A62</text></g>
<g id="A230" transform="translate(36,1029)"><text class="l" y="-6">Pit Cut</text><use href="#pill" class="w"/><text class="i" y="2.5">A230</text></g>
<g id="A331" transform="translate(422,1032)"><text class="l" y="-6">Pit Cut</text><use href="#pill" class="w"/><text class="i" y="2.5">A331</text></g>
<g id="A278" transform="translate(492,1032)"><text class="l" y="-6">Midden</text><use href="#pill" class="r"/><text class="i" y="2.5">A278</text></g>
<g id="A64" transform="translate(647,1036)"><text class="l" y="-6">Clay Loam Deposit</text><use href="#pill" class="g"/><text class="i" y="2.5">A64</text></g>
<g id="A63" transform="translate(690,1036)"><text class="l" y="-6">Prepared Clay Floor</text><use href="#pill" class="r"/><text class="i" y="2.5">A63</text></g>
<g id="A65" transform="translate(648,1064)"><text class="l" y="-6">Clay Loam Deposit</text><use href="#pill" class="w"/><text class="i" y="2.5">A65</text></g>
<g id="A338" transform="translate(467,1068)"><text class="l" y="-6">Ash Lens</text><use href="#pill" class="g"/><text class="i" y="2.5">A338</text></g>
<g id="A341" transform="translate(508,1068)"><text class="l" y="-6">Pit Fill Midden</text><use href="#pill" class="g"/><text class="i" y="2.5">A341</text></g>
<g id="A285" transform="translate(451,1095)"><text class="l" y="-6">Surface</text><use href="#pill" class="r"/><text class="i" y="2.5">A285</text></g>
<g id="A340" transform="translate(495,1094)"><text class="l" y="-6">Pit Cut</text><use href="#pill" class="w"/><text class="i" y="2.5">A340</text></g>
<g id="A66" transform="translate(691,1091)"><text class="l" y="-6">Medium Density Midden</text><use href="#pill" class="r"/><text class="i" y="2.5">A66</text></g>
<g id="A70" transform="translate(602,1128)"><text class="l" y="-6">Possible Clay Floor</text><use href="#pill" class="g"/><text class="i" y="2.5">A70</text></g>
<g id="A67" transform="translate(648,1128)"><text class="l" y="-6">Hearth</text><use href="#pill" class="g"/><text class="i" y="2.5">A67</text></g>
<g id="A68" transform="translate(693,1129)"><text class="l" y="-6">Hearth</text><use href="#pill" class="g"/><text class="i" y="2.5">A68</text></g>
<g id="A69" transform="translate(740,1129)"><text class="l" y="-6">Sand Lens</text><use href="#pill" class="g"/><text class="i" y="2.5">A69</text></g>
<g id="A233" transform="translate(451,1130)"><text class="l" y="-6">Burial #2</text><use href="#pill" class="g"/><text class="i" y="2.5">A233</text></g>
<g id="A287" transform="translate(496,1129)"><text class="l" y="-6">Midden</text><use href="#pill" class="g"/><text class="i" y="2.5">A287</text></g>
<g id="A71" transform="translate(648,1159)"><text class="l" y="-6">Sub-Floor Fill</text><use href="#pill" class="g"/><text class="i" y="2.5">A71</text></g>
<g id="A270" transform="translate(453,1166)"><text class="l" y="-6">Midden</text><use href="#pill" class="r"/><text class="i" y="2.5">A270</text></g>
<g id="A268" transform="translate(498,1164)"><text class="l" y="-6">Midden</text><use href="#pill" class="r"/><text class="i" y="2.5">A268</text></g>
<g id="A72" transform="translate(648,1192)"><text class="l" y="-6">Thin Charcoal Lens</text><use href="#pill" class="g"/><text class="i" y="2.5">A72</text></g>

<g id="A243" transform="translate(62,1199)"><text class="l" y="-6">Unlined Burial in Pit</text><use href="#pill" class="g"/><text class="i" y="2.5">A243</text></g>
<g id="A334" transform="translate(108,1199)"><text class="l" y="-6">Unlined Burial in Pit</text><use href="#pill" class="g"/><text class="i" y="2.5">A334</text></g>
<g id="A245" transform="translate(156,1199)"><text class="l" y="-6">Pit Fill</text><use href="#pill" class="g"/><text class="i" y="2.5">A245</text></g>
<g id="A272" transform="translate(203,1199)"><text class="l" y="-6">Stone Fill</text><use href="#pill" class="r"/><text class="i" y="2.5">A272</text></g>
<g id="A275" transform="translate(248,1200)"><text class="l" y="-6">Pit Fill</text><use href="#pill" class="br"/><text class="i" y="2.5">A275</text></g>
<g id="A266" transform="translate(294,1200)"><text class="l" y="-6">Cobble Feature</text><use href="#pill" class="g"/><text class="i" y="2.5">A266</text></g>
<g id="A267" transform="translate(330,1200)"><text class="l" y="-6">Ash Clump</text><use href="#pill" class="g"/><text class="i" y="2.5">A267</text></g>
<g id="A339" transform="translate(375,1201)"><text class="l" y="-6">Surface</text><use href="#pill" class="r"/><text class="i" y="2.5">A339</text></g>
<g id="A269" transform="translate(422,1201)"><text class="l" y="-11">Low Density Midden</text><text class="l" y="-6">with Ash</text><use href="#pill" class="m"/><text class="i" y="2.5">A269</text></g>
<g id="A74" transform="translate(625,1226)"><text class="l" y="-6">Cultural Fill</text><use href="#pill" class="r"/><text class="i" y="2.5">A74</text></g>
<g id="A73" transform="translate(673,1226)"><text class="l" y="-6">Thin Charcoal Lens</text><use href="#pill" class="g"/><text class="i" y="2.5">A73</text></g>
<g id="A244" transform="translate(64,1232)"><text class="l" y="-6">Burial Pit Cut</text><use href="#pill" class="w"/><text class="i" y="2.5">A244</text></g>
<g id="A336" transform="translate(112,1232)"><text class="l" y="-6">Unlined Burial in Pit</text><use href="#pill" class="g"/><text class="i" y="2.5">A336</text></g>
<g id="A246" transform="translate(158,1232)"><text class="l" y="-6">Pit Cut</text><use href="#pill" class="w"/><text class="i" y="2.5">A246</text></g>
<g id="A273" transform="translate(206,1232)"><text class="l" y="-6">Pit Cut</text><use href="#pill" class="w"/><text class="i" y="2.5">A273</text></g>
<g id="A276" transform="translate(251,1232)"><text class="l" y="-6">Pit Cut</text><use href="#pill" class="w"/><text class="i" y="2.5">A276</text></g>
<g id="A320" transform="translate(297,1232)"><text class="l" y="-6">Adobe Wall Fall</text><use href="#pill" class="br"/><text class="i" y="2.5">A320</text></g>
<g id="A342" transform="translate(335,1232)"><text class="l" y="-6">Midden in Channel</text><use href="#pill" class="g"/><text class="i" y="2.5">A342</text></g>
<g id="A75" transform="translate(626,1263)"><text class="l" y="-6">Mixed Fill</text><use href="#pill" class="r"/><text class="i" y="2.5">A75</text></g>
<g id="A236" transform="translate(110,1270)"><text class="l" y="-6">Pit Fill (ash)</text><use href="#pill" class="g"/><text class="i" y="2.5">A236</text></g>
<g id="A335" transform="translate(157,1270)"><text class="l" y="-6">Pit Cut</text><use href="#pill" class="w"/><text class="i" y="2.5">A335</text></g>
<g id="A348" transform="translate(239,1270)"><text class="l" y="-6">Adobe Wall Melt</text><use href="#pill" class="g"/><text class="i" y="2.5">A348</text></g>
<g id="A321" transform="translate(286,1269)"><text class="l" y="-6">Channel Material Lens</text><use href="#pill" class="g"/><text class="i" y="2.5">A321</text></g>
<g id="A76" transform="translate(702,1295)"><text class="l" y="-6">Mixed Fill</text><use href="#pill" class="g"/><text class="i" y="2.5">A76</text></g>
<g id="A237" transform="translate(158,1302)"><text class="l" y="-6">Pit Cut</text><use href="#pill" class="w"/><text class="i" y="2.5">A237</text></g>
<g id="A346" transform="translate(242,1302)"><text class="l" y="-11">Multicolored Adobes</text><text class="l" y="-6">On stone foundations</text><use href="#pill" class="w"/><text class="i" y="2.5">A346</text></g>
<g id="A322" transform="translate(290,1301)"><text class="l" y="-11">Culturally Deposited Rock</text><text class="l" y="-6">Naturally Redeposited</text><use href="#pill" class="br"/><text class="i" y="2.5">A322</text></g>
<g id="A271" transform="translate(160,1335)"><text class="l" y="-6">Midden</text><use href="#pill" class="r"/><text class="i" y="2.5">A271</text></g>
<g id="A347" transform="translate(243,1334)"><text class="l" y="-6">Stone Wall</text><use href="#pill" class="w"/><text class="i" y="2.5">A347</text></g>
<g id="A345" transform="translate(289,1334)"><text class="l" y="-6">Cobble Wall Fall</text><use href="#pill" class="g"/><text class="i" y="2.5">A345</text></g>
<g id="A238" transform="translate(114,1369)"><text class="l" y="-6">Clay Deposit</text><use href="#pill" class="g"/><text class="i" y="2.5">A238</text></g>
<g id="A328" transform="translate(162,1369)"><text class="l" y="-6">Rock and Adobe Rock Fall</text><use href="#pill" class="r"/><text class="i" y="2.5">A328</text></g>
<g id="A247" transform="translate(209,1370)"><text class="l" y="-6">Mixed Fill</text><use href="#pill" class="br"/><text class="i" y="2.5">A247</text></g>
<g id="A344" transform="translate(290,1367)"><text class="l" y="-6">Possible Surface</text><use href="#pill" class="g"/><text class="i" y="2.5">A344</text></g>
<g id="A329" transform="translate(163,1406)"><text class="l" y="-6">Surface</text><use href="#pill" class="br"/><text class="i" y="2.5">A329</text></g>
<g id="A248" transform="translate(210,1406)"><text class="l" y="-6">Pit Cut</text><use href="#pill" class="w"/><text class="i" y="2.5">A248</text></g>
<g id="A343" transform="translate(291,1405)"><text class="l" y="-6">Possible Occupation Zone</text><use href="#pill" class="g"/><text class="i" y="2.5">A343</text></g>
<g id="A274" transform="translate(272,1443)"><text class="l" y="-6">Greasy Green Clay Deposit</text><use href="#pill" class="r"/><text class="i" y="2.5">A274</text></g>
<g id="A277" transform="translate(162,1471)"><text class="l" y="-6">Midden</text><use href="#pill" class="br"/><text class="i" y="2.5">A277</text></g>
<g id="A93" transform="translate(306,1471)"><text class="l" y="-6">Yellow Clay Concentration</text><use href="#pill" class="g"/><text class="i" y="2.5">A93</text></g>
<g id="A351" transform="translate(44,1503)"><text class="l" y="-6">Adobe Wall Melt</text><use href="#pill" class="br"/><text class="i" y="2.5">A351</text></g>
<g id="A252" transform="translate(226,1500)"><text class="l" y="-6">Yellow Clay Deposit</text><use href="#pill" class="g"/><text class="i" y="2.5">A252</text></g>
<g id="A94" transform="translate(307,1500)"><text class="l" y="-6">Possible Fill</text><use href="#pill" class="r"/><text class="i" y="2.5">A94</text></g>
<g id="A249" transform="translate(45,1534)"><text class="l" y="-6">Ephemeral In Situ Burning</text><use href="#pill" class="br"/><text class="i" y="2.5">A249</text></g>
<g id="A95" transform="translate(308,1531)"><text class="l" y="-6">Wall Fall</text><use href="#pill" class="mr"/><text class="i" y="2.5">A95</text></g>
<g id="A250" transform="translate(46,1567)"><text class="l" y="-6">Occupation Zone</text><use href="#pill" class="g"/><text class="i" y="2.5">A250</text></g>
<g id="A96" transform="translate(308,1563)"><text class="l" y="-6">Fill</text><use href="#pill" class="br"/><text class="i" y="2.5">A96</text></g>
<g id="A251" transform="translate(48,1599)"><text class="l" y="-6">Surface outside Structure</text><use href="#pill" class="br"/><text class="i" y="2.5">A251</text></g>
<g id="A104" transform="translate(90,1599)"><text class="l" y="-6">Pit Cut</text><use href="#pill" class="w"/><text class="i" y="2.5">A104</text></g>
<g id="A98" transform="translate(139,1600)"><text class="l" y="-11">Compact Surface</text><text class="l" y="-6">Outside of Structure</text><use href="#pill" class="br"/><text class="i" y="2.5">A98</text></g>
<g id="A103" transform="translate(185,1600)"><text class="l" y="-11">Possible Occupation</text><text class="l" y="-6">Zone</text><use href="#pill" class="g"/><text class="i" y="2.5">A103</text></g>
<g id="A99" transform="translate(232,1599)"><text class="l" y="-6">Hearth Cut</text><use href="#pill" class="br"/><text class="i" y="2.5">A99</text></g>
<g id="A100" transform="translate(277,1601)"><text class="l" y="-11">Surface Inside</text><text class="l" y="-6">Structure</text><use href="#pill" class="br"/><text class="i" y="2.5">A100</text></g>
<g id="A101" transform="translate(322,1601)"><text class="l" y="-11">Surface Inside</text><text class="l" y="-6">of Structure</text><use href="#pill" class="br"/><text class="i" y="2.5">A101</text></g>
<g id="A102" transform="translate(359,1601)"><text class="l" y="-6">Possible Occ. Zone</text><use href="#pill" class="g"/><text class="i" y="2.5">A102</text></g>
<g id="A97" transform="translate(398,1601)"><text class="l" y="-6">Pirka/Wall</text><use href="#pill" class="w"/><text class="i" y="2.5">A97</text></g>
<g id="A105" transform="translate(309,1632)"><text class="l" y="-11">Medium Density</text><text class="l" y="-6">Midden w/ ash</text><use href="#pill" class="g"/><text class="i" y="2.5">A105</text></g>
<g id="A112" transform="translate(346,1632)"><text class="l" y="-6">Pit Cut</text><use href="#pill" class="w"/><text class="i" y="2.5">A112</text></g>
<g id="A110" transform="translate(383,1632)"><text class="l" y="-6">Possible Fill</text><use href="#pill" class="g"/><text class="i" y="2.5">A110</text></g>
<g id="A23" transform="translate(406,1662)"><text class="l" y="-6">Sterile</text><use href="#pill" class="r"/><text class="i" y="2.5">A23</text></g>
</g>

<!-- radiocarbon dates -->
<g id="dates">
<text class="d" x="662" y="494">C14 = AD238-426</text>
<text class="d" x="684" y="802">C14 = AD369-577</text>
<text class="d" x="358" y="798">C14 = AD253-530</text>
<text class="d" x="435" y="1097" text-anchor="end">C14 = AD102-301</text>
<text class="d" x="633" y="1111">C14 = AD126-381</text>
<text class="d" x="309" y="1407">C14= 379-114BC</text>
</g>

<!-- legend -->
<g id="legend">
<rect x="650" y="1572" width="138" height="171" fill="#fff" stroke="#444" stroke-width="1.8"/>
<text class="lg" x="653" y="1586">GENERAL CERAMIC CHRONOLOGY</text>
<use href="#pill" x="666" y="1603" class="m"/><text class="lg" x="683" y="1605">Generally Mixed</text>
<use href="#pill" x="666" y="1618" class="y"/><text class="lg" x="683" y="1620">Tiwanaku IV/V (maybe some mixing)</text>
<use href="#pill" x="666" y="1632" class="b"/><text class="lg" x="683" y="1634">Late Chiripa (Middle Formative)</text>
<use href="#pill" x="666" y="1646" class="r"/><text class="lg" x="683" y="1648">Late Formative I</text>
<use href="#pill" x="666" y="1661" class="gn"/><text class="lg" x="683" y="1663">Late Formative II</text>
<use href="#pill" x="666" y="1676" class="br"/><text class="lg" x="683" y="1678">part L.C.,  part L.F</text>
<use href="#pill" x="666" y="1689" class="yr"/><text class="lg" x="683" y="1691">part Tia IV/V, part L.F.</text>
<use href="#pill" x="666" y="1706" class="mr"/><text class="lg" x="684" y="1708">part Generally Mixed, part L.F.</text>
<use href="#pill" x="666" y="1721" class="w"/><text class="lg" x="682" y="1723">Sterile, Unexcavated or Cut (no artifacts)</text>
<use href="#pill" x="666" y="1735" class="g"/><text class="lg" x="683" y="1737">Not analyzed or too few for phase</text>
<text class="lg" x="662" y="1751">** NOTE: Mixed and "Part a, Part b" may mean</text>
<text class="lg" x="662" y="1758.5">various degrees of mixing.  Check phase bag</text>
<text class="lg" x="662" y="1766">list for specific degree of mixing</text>
</g>
<g id="note">
<text x="808" y="1709" font-size="4" fill="#333">**MISSING 3 EVENTS WHICH HAVE BEEN PHASED, YET DO NOT EXIST IN THIS HM</text>
<text x="808" y="1716" font-size="4" fill="#333">- A286</text>
<text x="808" y="1722" font-size="4" fill="#333">- A265</text>
<text x="808" y="1728" font-size="4" fill="#333">- A90</text>
</g>
</svg>
